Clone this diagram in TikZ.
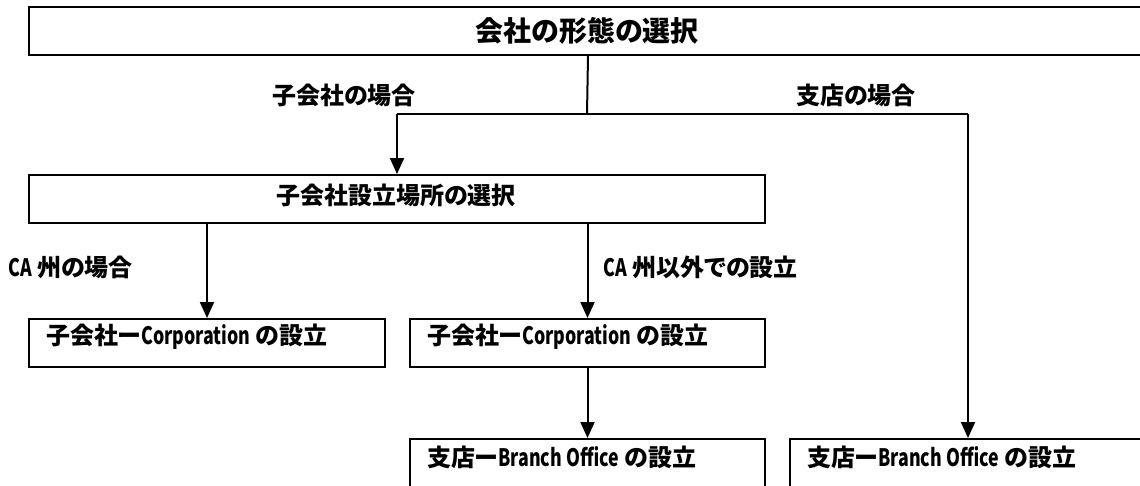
\documentclass[tikz,border=0pt]{standalone}
\usepackage{graphicx}
\usepackage{fontspec}
\setmainfont{Noto Sans CJK JP}[RawFeature=+palt]
\usetikzlibrary{arrows.meta}
\newcommand\latn[1]{\scalebox{0.74}[1]{#1}}
\tikzset{
  box/.style={draw=black, line width=2pt, rectangle, inner sep=0pt, anchor=north west},
  txt/.style={font=\bfseries\fontsize{24}{24}\selectfont, inner sep=0pt},
  title/.style={font=\bfseries\fontsize{28}{28}\selectfont, inner sep=0pt},
  conn/.style={line width=2pt},
  arr/.style={line width=2pt, -{Triangle[width=14pt,length=16pt]}},
}
\begin{document}
\begin{tikzpicture}[x=1pt,y=-1pt]
\useasboundingbox (0,0) rectangle (1140,485);
% boxes
\node[box, minimum width=1118pt, minimum height=48pt] (top) at (28,6) {};
\node[box, minimum width=736pt, minimum height=48pt] (b2) at (28,174) {};
\node[box, minimum width=356pt, minimum height=48pt] (b3a) at (28,318) {};
\node[box, minimum width=355pt, minimum height=48pt] (b3b) at (409,318) {};
\node[box, minimum width=355pt, minimum height=70pt] (b4a) at (409,438) {};
\node[box, minimum width=356pt, minimum height=70pt] (b4b) at (789,438) {};
% texts
\node[title] (ttop) at (587,31) {会社の形態の選択};
\node[txt] (t2) at (396,195) {子会社設立場所の選択};
\node[txt, anchor=west] (t3a) at (46,337) {子会社ー\latn{Corporation} の設立};
\node[txt, anchor=west] (t3b) at (427,337) {子会社ー\latn{Corporation} の設立};
\node[txt, anchor=west] (t4a) at (427,457) {支店ー\latn{Branch Office} の設立};
\node[txt, anchor=west] (t4b) at (807,457) {支店ー\latn{Branch Office} の設立};
% labels
\node[txt] (l1) at (344,95) {子会社の場合};
\node[txt] (l2) at (856,95) {支店の場合};
\node[txt, anchor=west] (l3) at (8,267) {\latn{CA} 州の場合};
\node[txt, anchor=west] (l4) at (603,267) {\latn{CA} 州以外での設立};
% connectors
\coordinate (j) at (587,114);
\draw[conn] (top.south) -- (j);
\draw[conn] (b2.north |- j) -- (b4b.north |- j);
\draw[arr] (b2.north |- j) -- (b2.north);
\draw[arr] (b4b.north |- j) -- (b4b.north);
\draw[arr] (b2.south -| b3a.north) -- (b3a.north);
\draw[arr] (b2.south -| b3b.north) -- (b3b.north);
\draw[arr] (b3b.south) -- (b4a.north);
\end{tikzpicture}
\end{document}
